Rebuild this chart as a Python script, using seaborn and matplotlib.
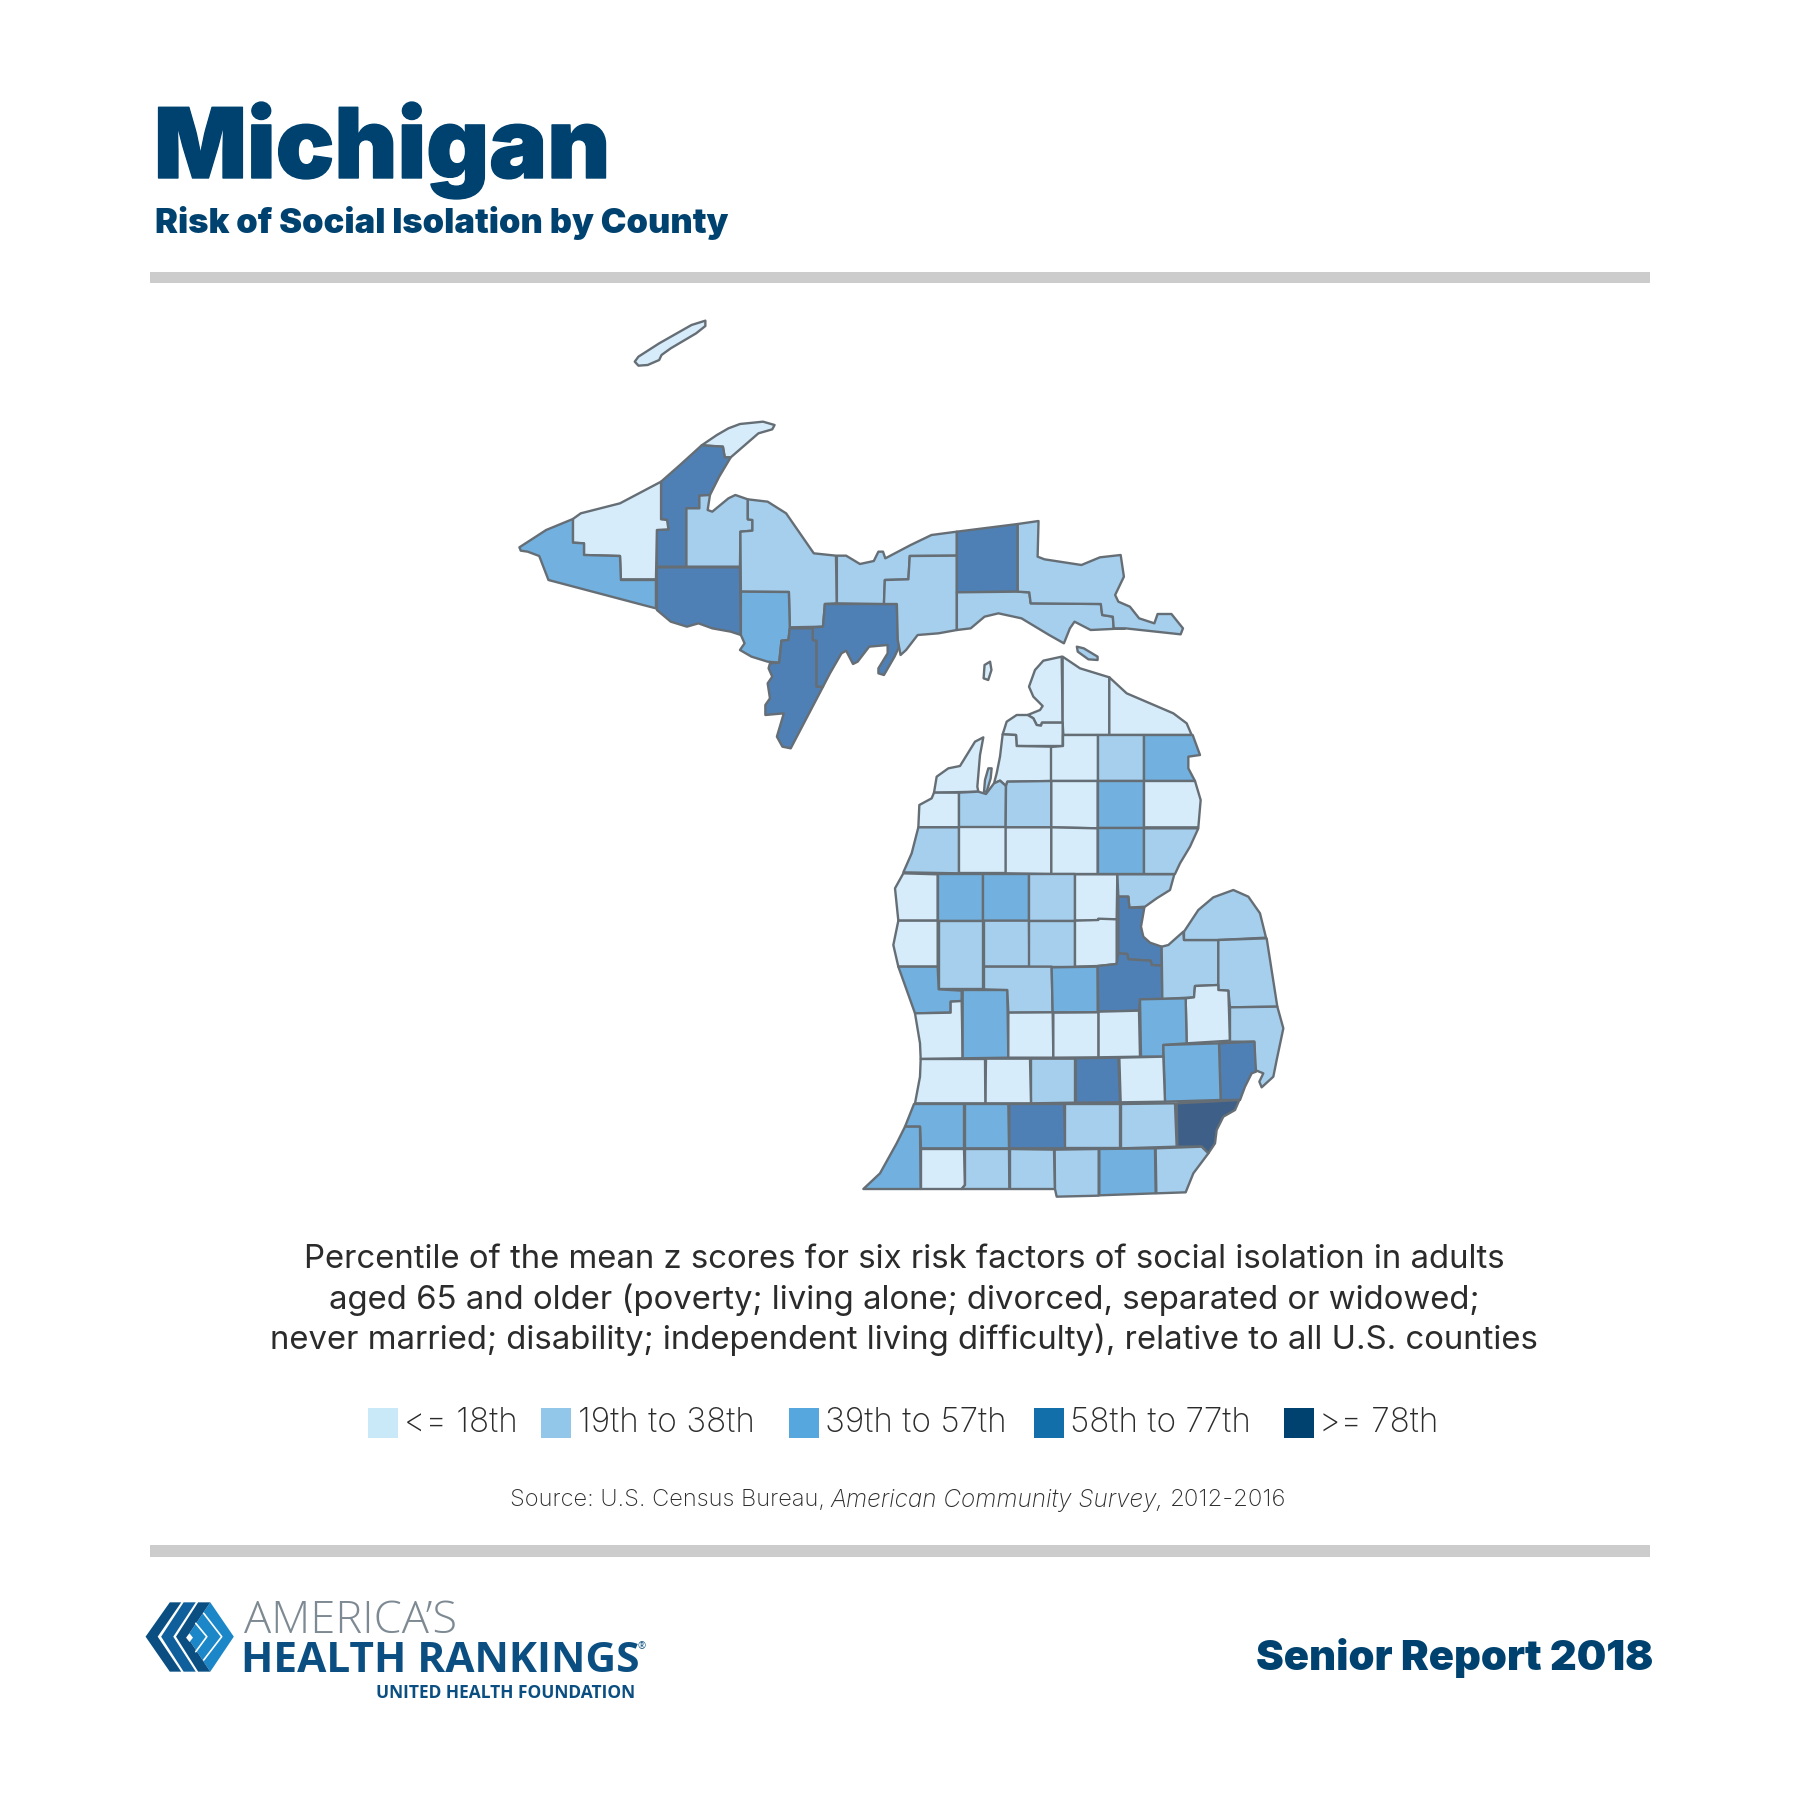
"""Michigan county map: risk of social isolation, Senior Report 2018."""

import matplotlib
matplotlib.use("Agg")
import matplotlib.pyplot as plt
import matplotlib.patheffects as pe
import seaborn as sns

# Class colours of the map and of the legend (the map is a bit paler)
map_colors = ["#d6ecfa", "#a6cfee", "#72b0df", "#4f80b5", "#3e5f87"]
legend_colors = ["#c9e8f8", "#92c7ea", "#55a7dd", "#126faa", "#00426f"]
legend_labels = ["<= 18th", "19th to 38th", "39th to 57th", "58th to 77th", ">= 78th"]

description = [
    "Percentile of the mean z scores for six risk factors of social isolation in adults",
    "aged 65 and older (poverty; living alone; divorced, separated or widowed;",
    "never married; disability; independent living difficulty), relative to all U.S. counties",
]

# Percentile class per county (0 = lowest, 4 = highest)
risk_class = {
    "Isle Royale": 0, "Keweenaw": 0, "Houghton": 3, "Ontonagon": 0, "Gogebic": 2, "Iron": 3,
    "Baraga": 1, "Marquette": 1, "Dickinson": 2, "Menominee": 3, "Delta": 3, "Alger": 1,
    "Schoolcraft": 1, "Luce": 3, "Mackinac": 1, "Chippewa": 1, "Bois Blanc": 1, "Beaver": 0,
    "Emmet": 0, "Cheboygan": 0, "Presque Isle": 0, "Charlevoix": 0, "Leelanau": 0, "Antrim": 0,
    "Otsego": 0, "Montmorency": 1, "Alpena": 2, "Benzie": 0, "Grand Traverse": 1, "Old Mission": 1,
    "Kalkaska": 1, "Crawford": 0, "Oscoda": 2, "Alcona": 0, "Manistee": 1, "Wexford": 0,
    "Missaukee": 0, "Roscommon": 0, "Ogemaw": 2, "Iosco": 1, "Mason": 0, "Lake": 2, "Osceola": 2,
    "Clare": 1, "Gladwin": 0, "Arenac": 1, "Bay": 3, "Oceana": 0, "Newaygo": 1, "Mecosta": 1,
    "Isabella": 1, "Midland": 0, "Muskegon": 2, "Ottawa": 0, "Kent": 2, "Montcalm": 1, "Gratiot": 2,
    "Saginaw": 3, "Tuscola": 1, "Huron": 1, "Sanilac": 1, "Lapeer": 0, "Genesee": 2, "Clinton": 0,
    "Ionia": 0, "Shiawassee": 0, "St. Clair": 1, "Macomb": 3, "Oakland": 2, "Livingston": 0,
    "Ingham": 3, "Eaton": 1, "Barry": 0, "Allegan": 0, "Van Buren": 2, "Kalamazoo": 2, "Calhoun": 3,
    "Jackson": 1, "Washtenaw": 1, "Wayne": 4, "Berrien": 2, "Cass": 0, "St. Joseph": 1, "Branch": 1,
    "Hillsdale": 1, "Lenawee": 2, "Monroe": 1,
}

# County outlines, upper peninsula
upper_outlines = {
    "Isle Royale": [(292,185),(300,170),(345,130),(415,75),(445,62),(445,78),(425,100),(370,145),(350,165),(345,180),(320,195),(300,197)],
    "Keweenaw": [(437,436),(470,405),(495,385),(520,372),(570,365),(595,375),(590,388),(560,400),(535,430),(500,472),(487,472),(483,440)],
    "Houghton": [(437,436),(483,440),(487,472),(500,472),(475,530),(455,585),(432,587),(432,625),(404,625),(404,800),(340,800),(340,690),(365,688),(362,660),(349,658),(349,545),(390,495)],
    "Ontonagon": [(158,657),(175,640),(260,610),(349,545),(349,658),(362,660),(365,688),(340,690),(338,838),(262,838),(260,768),(182,765),(182,730),(158,728)],
    "Gogebic": [(42,742),(100,690),(158,657),(158,728),(182,730),(182,765),(260,768),(262,840),(338,840),(338,925),(310,915),(105,840),(85,768),(60,755),(45,752)],
    "Iron": [(340,802),(520,802),(522,1005),(500,995),(460,985),(430,970),(405,980),(370,965),(340,930)],
    "Baraga": [(404,625),(432,625),(432,587),(455,585),(450,630),(460,635),(495,595),(510,585),(537,598),(537,658),(547,660),(547,692),(521,695),(520,800),(404,800)],
    "Marquette": [(537,598),(580,605),(620,640),(680,760),(728,767),(730,910),(704,912),(700,980),(628,982),(626,876),(522,875),(521,695),(547,692),(547,660),(537,658)],
    "Dickinson": [(522,875),(626,876),(628,985),(625,1020),(610,1022),(605,1088),(580,1085),(545,1070),(520,1050),(530,1030),(522,1005)],
    "Menominee": [(628,985),(678,985),(678,1020),(686,1022),(686,1160),(700,1160),(630,1345),(612,1340),(600,1310),(615,1240),(575,1245),(575,1215),(585,1195),(580,1150),(590,1130),(582,1105),(585,1090),(605,1088),(610,1022),(625,1020)],
    "Delta": [(704,912),(860,912),(862,1020),(865,1040),(855,1070),(832,1125),(820,1120),(820,1105),(840,1060),(840,1035),(800,1040),(775,1085),(765,1092),(750,1052),(740,1060),(715,1120),(700,1160),(686,1160),(686,1022),(678,1020),(678,982),(700,980)],
    "Alger": [(730,767),(750,767),(780,792),(810,783),(820,755),(830,755),(835,775),(890,735),(935,705),(990,695),(990,767),(888,768),(885,838),(834,840),(832,912),(730,910)],
    "Schoolcraft": [(888,768),(990,767),(990,990),(950,1000),(905,1005),(880,1050),(868,1065),(862,1020),(860,912),(832,912),(834,840),(885,838)],
    "Luce": [(990,695),(1122,672),(1122,875),(990,877)],
    "Mackinac": [(990,877),(1122,875),(1147,877),(1150,910),(1302,912),(1305,945),(1328,950),(1330,985),(1355,985),(1280,990),(1245,965),(1235,985),(1222,1030),(1190,1005),(1130,955),(1080,940),(1050,950),(1020,985),(990,990)],
    "Chippewa": [(1122,672),(1167,663),(1165,770),(1180,778),(1260,795),(1300,772),(1345,765),(1352,830),(1333,885),(1340,905),(1365,920),(1385,955),(1418,970),(1425,942),(1455,942),(1480,985),(1475,1003),(1355,985),(1330,985),(1328,950),(1305,945),(1302,912),(1150,910),(1147,877),(1122,875)],
    "Beaver": [(1048,1135),(1050,1095),(1062,1085),(1065,1110),(1058,1140)],
    "Bois Blanc": [(1250,1040),(1265,1045),(1295,1070),(1295,1080),(1275,1078),(1252,1055)],
}

# Northern lower peninsula
north_outlines = {
    "Emmet": [(665,50),(668,248),(606,248),(603,257),(590,255),(580,235),(563,225),(600,210),(608,198),(580,170),(567,140),(585,90),(610,62)],
    "Cheboygan": [(668,50),(720,85),(808,112),(808,285),(670,285),(668,248)],
    "Presque Isle": [(808,112),(860,160),(1000,220),(1040,250),(1055,285),(808,285)],
    "Charlevoix": [(563,225),(580,235),(590,255),(603,257),(606,248),(668,248),(668,318),(530,318),(528,285),(488,283),(500,245),(530,225)],
    "Leelanau": [(430,292),(420,345),(412,440),(415,455),(282,458),(290,410),(325,385),(360,378),(405,305)],
    "Antrim": [(488,283),(528,285),(530,318),(634,320),(634,423),(502,425),(498,438),(480,422),(462,430),(470,400),(480,350)],
    "Otsego": [(668,318),(668,285),(773,285),(773,423),(634,423),(634,320)],
    "Montmorency": [(773,285),(912,285),(912,423),(773,423)],
    "Alpena": [(912,285),(1058,285),(1080,345),(1045,350),(1045,385),(1065,423),(912,423)],
    "Benzie": [(282,458),(357,458),(357,562),(235,562),(238,495),(275,475)],
    "Grand Traverse": [(357,458),(415,455),(438,462),(462,430),(480,422),(498,438),(497,562),(357,562)],
    "Old Mission": [(432,455),(435,420),(445,385),(455,385),(452,415),(440,455)],
    "Kalkaska": [(502,425),(634,423),(634,562),(497,562),(498,438)],
    "Crawford": [(634,423),(773,423),(773,565),(634,562)],
    "Oscoda": [(773,423),(912,423),(912,565),(773,565)],
    "Alcona": [(912,423),(1065,423),(1082,480),(1075,562),(912,562)],
    "Manistee": [(235,562),(357,562),(357,700),(190,697),(215,640)],
    "Wexford": [(357,562),(497,562),(497,700),(357,700)],
    "Missaukee": [(497,562),(634,562),(634,702),(497,700)],
    "Roscommon": [(634,562),(773,565),(773,702),(634,702)],
    "Ogemaw": [(773,565),(912,565),(912,702),(773,702)],
    "Iosco": [(912,565),(1075,565),(1050,620),(1020,670),(1005,702),(912,702)],
    "Mason": [(190,700),(293,703),(293,842),(175,842),(165,745)],
    "Lake": [(293,703),(430,703),(430,842),(293,842)],
    "Osceola": [(430,703),(567,703),(567,842),(430,842)],
    "Clare": [(567,703),(705,703),(705,842),(567,842)],
    "Gladwin": [(705,703),(832,703),(830,838),(775,838),(775,842),(705,842)],
    "Arenac": [(832,703),(1003,703),(990,750),(950,775),(915,800),(868,803),(865,770),(835,770)],
}

# Southern lower peninsula
south_outlines = {
    "Bay": [(835,-10),(865,-10),(868,23),(913,23),(903,80),(910,110),(930,128),(965,140),(965,197),(935,195),(932,182),(865,178),(862,162),(835,160)],
    "Oceana": [(175,62),(293,62),(293,200),(175,200),(160,135)],
    "Newaygo": [(296,62),(430,62),(430,268),(296,268),(296,200)],
    "Mecosta": [(432,62),(567,62),(568,200),(432,200)],
    "Isabella": [(567,62),(705,62),(705,200),(568,200)],
    "Midland": [(705,62),(775,60),(775,56),(830,58),(830,192),(775,198),(705,200)],
    "Muskegon": [(175,200),(293,200),(296,268),(365,272),(365,303),(332,305),(332,338),(225,340),(200,270)],
    "Ottawa": [(225,340),(332,338),(332,305),(365,303),(368,475),(242,477),(240,430)],
    "Kent": [(368,270),(502,270),(505,473),(368,475)],
    "Montcalm": [(432,200),(635,200),(638,337),(505,338),(502,270),(432,268)],
    "Gratiot": [(635,202),(773,200),(773,337),(638,337)],
    "Saginaw": [(773,198),(830,192),(835,160),(862,162),(865,178),(932,182),(935,195),(965,197),(967,297),(900,298),(897,332),(775,335)],
    "Tuscola": [(965,140),(985,135),(1030,95),(1032,120),(1135,120),(1135,255),(1065,258),(1062,292),(967,297)],
    "Huron": [(1032,120),(1032,95),(1075,30),(1120,-8),(1180,-30),(1225,-10),(1260,40),(1278,113),(1135,120)],
    "Sanilac": [(1135,120),(1280,115),(1312,320),(1170,322),(1165,272),(1135,270),(1135,255)],
    "Lapeer": [(1065,258),(1135,255),(1135,270),(1165,272),(1170,422),(1040,430),(1037,295),(1062,292)],
    "Genesee": [(900,298),(1037,295),(1040,430),(970,435),(970,470),(903,470)],
    "Clinton": [(775,335),(897,332),(900,470),(775,472)],
    "Ionia": [(505,338),(638,337),(640,473),(505,473)],
    "Shiawassee": [(640,338),(775,337),(775,472),(640,473)],
    "St. Clair": [(1170,322),(1312,320),(1330,385),(1310,480),(1300,530),(1265,562),(1258,545),(1270,520),(1245,510),(1243,425),(1170,425)],
    "Macomb": [(1137,430),(1243,425),(1248,515),(1235,520),(1215,560),(1200,600),(1142,600)],
    "Oakland": [(970,435),(1137,430),(1142,600),(975,605)],
    "Livingston": [(838,473),(970,470),(975,605),(842,607)],
    "Ingham": [(707,475),(835,473),(840,607),(708,608)],
    "Eaton": [(573,476),(705,476),(705,608),(573,610)],
    "Barry": [(438,476),(570,476),(573,610),(436,610)],
    "Allegan": [(242,477),(435,477),(436,610),(225,610),(240,530)],
    "Van Buren": [(222,612),(372,612),(372,745),(243,745),(240,680),(195,680)],
    "Kalamazoo": [(375,612),(505,612),(507,745),(375,745)],
    "Calhoun": [(508,612),(672,612),(676,745),(508,745)],
    "Jackson": [(676,612),(840,612),(840,745),(676,745)],
    "Washtenaw": [(843,612),(1005,610),(1010,740),(843,745)],
    "Wayne": [(1010,610),(1198,600),(1185,630),(1150,650),(1130,690),(1125,730),(1105,760),(1085,740),(1012,740)],
    "Berrien": [(195,680),(240,680),(242,867),(70,867),(120,820),(170,730)],
    "Cass": [(243,747),(372,747),(375,855),(365,867),(243,867)],
    "St. Joseph": [(375,747),(507,747),(508,867),(365,867),(375,855)],
    "Branch": [(510,747),(642,749),(645,867),(510,867)],
    "Hillsdale": [(644,749),(776,747),(776,887),(650,890),(645,867)],
    "Lenawee": [(778,747),(945,745),(947,880),(778,886)],
    "Monroe": [(947,745),(1085,740),(1105,760),(1060,820),(1037,877),(949,880)],
}

NAVY = "#00426f"
INK = "#2b2b2b"
RULE = "#cccccc"
EDGE = "#666e75"
BODY_FONT = "Inter"
HEAVY_FONT = "Inter"

sns.set_theme(style="white")
fig = plt.figure(figsize=(18, 18), dpi=100)
ax = fig.add_axes([0, 0, 1, 1])
ax.set_xlim(0, 1800)
ax.set_ylim(1800, 0)
ax.axis("off")


def draw_counties(outlines, x0, y0, scale_x, scale_y):
    for name, points in outlines.items():
        xs = [x0 + p[0] / scale_x for p in points]
        ys = [y0 + p[1] / scale_y for p in points]
        ax.fill(xs, ys, facecolor=map_colors[risk_class[name]], edgecolor=EDGE,
                linewidth=1.7, joinstyle="round", zorder=2)


draw_counties(upper_outlines, 500, 300, 2.167, 3)
draw_counties(north_outlines, 840, 640, 3, 3)
draw_counties(south_outlines, 840, 900, 3, 3)

# Header
ax.text(154, 178, "Michigan", fontsize=70, fontweight="black", family=HEAVY_FONT, color=NAVY,
        path_effects=[pe.withStroke(linewidth=1.0, foreground=NAVY)])
ax.text(155, 233, "Risk of Social Isolation by County", fontsize=24.8, fontweight="black",
        family=HEAVY_FONT, color=NAVY)
ax.fill_between([150, 1650], 272, 283, color=RULE, linewidth=0)
ax.fill_between([150, 1650], 1545, 1557, color=RULE, linewidth=0)

# Description
for i, line in enumerate(description):
    ax.text(904, 1260 + i * 40, line, fontsize=23.7, family=BODY_FONT, color=INK, ha="center", va="center")

# Legend
swatch_x = [383, 556, 804, 1049, 1299]
label_x = [404, 578, 825, 1070, 1319]
sns.scatterplot(x=swatch_x, y=[1423] * 5, hue=legend_labels, palette=legend_colors, hue_order=legend_labels,
                marker="s", s=470, linewidth=0, legend=False, ax=ax, zorder=3)
for x, label in zip(label_x, legend_labels):
    ax.text(x, 1423, label, fontsize=24, fontweight="light", family=BODY_FONT, color=INK, va="center")
ax.set_xlabel("")
ax.set_ylabel("")

# Source line, mixed upright and italic
ax.text(510, 1500, "Source: U.S. Census Bureau, ", fontsize=17, fontweight="light", family=BODY_FONT,
        color=INK, va="center")
ax.text(830, 1500, "American Community Survey,", fontsize=17.5, fontweight="light", style="italic",
        family=BODY_FONT, color=INK, va="center")
ax.text(1170, 1500, "2012-2016", fontsize=17.2, fontweight="light", family=BODY_FONT, color=INK, va="center")

# Footer
ax.text(1653, 1658, "Senior Report 2018", fontsize=30, fontweight="black", family=HEAVY_FONT, color=NAVY,
        ha="right", va="center")


def logo_shape(points, color):
    xs = [130 + p[0] / 2.89 for p in points]
    ys = [1590 + p[1] / 3 for p in points]
    ax.fill(xs, ys, color=color, linewidth=0)


def logo_line(points):
    xs = [130 + p[0] / 2.89 for p in points]
    ys = [1590 + p[1] / 3 for p in points]
    ax.plot(xs, ys, color="white", linewidth=1.2)


# Logo mark
logo_shape([(232,37),(300,140),(232,245),(165,140)], "#1b87c9")
logo_shape([(45,140),(115,37),(148,37),(80,140),(148,245),(115,245)], "#0b4f82")
logo_shape([(90,140),(155,37),(190,37),(125,140),(190,245),(155,245)], "#0f5f9c")
logo_shape([(133,140),(197,37),(232,37),(165,140),(232,245),(197,245)], "#0b4f82")
logo_line([(190,100),(222,140),(190,185)])
logo_line([(213,70),(265,140),(213,210)])
logo_shape([(172,130),(182,143),(172,156),(162,143)], "white")

ax.text(244, 1633, "AMERICA\u2019S", fontsize=32.6, fontweight="light", family="Open Sans", color="#7e8a93")
ax.text(241, 1672, "HEALTH RANKINGS", fontsize=30.5, fontweight="bold", family="Open Sans", color="#0b4f82")
ax.text(637, 1649, "\u00ae", fontsize=7, family="Open Sans", color="#0b4f82")
ax.text(376, 1698, "UNITED HEALTH FOUNDATION", fontsize=12.5, fontweight="bold", family="Open Sans", color="#0b4f82")

fig.savefig("out.png", dpi=100, facecolor="white")
